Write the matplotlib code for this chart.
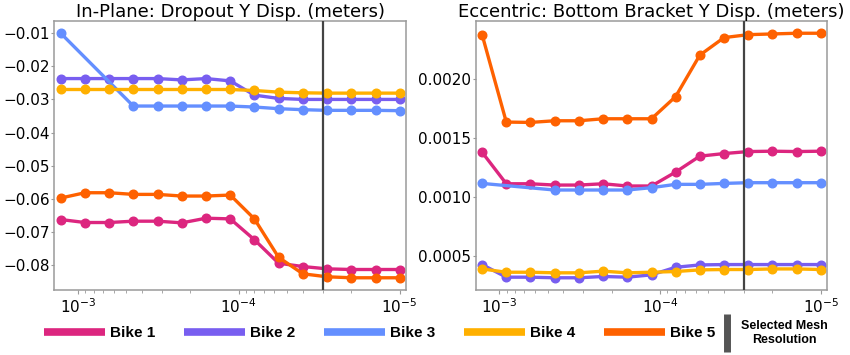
import matplotlib
matplotlib.use("Agg")
import matplotlib.pyplot as plt
from matplotlib.lines import Line2D
from matplotlib.ticker import MultipleLocator
import numpy as np

# ---- data ----
mesh_sizes = [1.28e-3, 9.05e-4, 6.4e-4, 4.53e-4, 3.2e-4, 2.26e-4, 1.6e-4, 1.13e-4,
              8e-5, 5.66e-5, 4e-5, 2.83e-5, 2e-5, 1.41e-5, 1e-5]
selected_mesh = 3e-5

bike_names = ["Bike 1", "Bike 2", "Bike 3", "Bike 4", "Bike 5"]
bike_colors = ["#DC267F", "#785EF0", "#648FFF", "#FFB000", "#FE6100"]

dropout_title = "In-Plane: Dropout Y Disp. (meters)"
dropout_bike1 = [-0.0663, -0.0672, -0.0672, -0.0668, -0.0668, -0.0673, -0.0659, -0.0661,
                 -0.0724, -0.0795, -0.0805, -0.0812, -0.0814, -0.0814, -0.0814]
dropout_bike2 = [-0.0237, -0.0237, -0.0237, -0.0237, -0.0237, -0.0241, -0.0237, -0.0244,
                 -0.0287, -0.0297, -0.0300, -0.0300, -0.0300, -0.0300, -0.0300]
dropout_bike3 = [-0.0100, None, None, -0.0320, -0.0320, -0.0320, -0.0320, -0.0320,
                 -0.0323, -0.0328, -0.0331, -0.0333, -0.0333, -0.0333, -0.0334]
dropout_bike4 = [-0.0270, -0.0270, -0.0270, -0.0270, -0.0270, -0.0270, -0.0270, -0.0270,
                 -0.0273, -0.0278, -0.0280, -0.0281, -0.0281, -0.0281, -0.0281]
dropout_bike5 = [-0.0598, -0.0582, -0.0582, -0.0587, -0.0587, -0.0592, -0.0592, -0.0589,
                 -0.0661, -0.0777, -0.0827, -0.0836, -0.0839, -0.0839, -0.0839]
dropout_ytick_step = 0.01

bracket_title = "Eccentric: Bottom Bracket Y Disp. (meters)"
bracket_bike1 = [0.001379, 0.001112, 0.001112, 0.001101, 0.001101, 0.001112, 0.001093, 0.001093,
                 0.001211, 0.001346, 0.001368, 0.001385, 0.001388, 0.001385, 0.001388]
bracket_bike2 = [0.000427, 0.000320, 0.000320, 0.000315, 0.000315, 0.000326, 0.000320, 0.000340,
                 0.000404, 0.000424, 0.000427, 0.000427, 0.000427, 0.000427, 0.000427]
bracket_bike3 = [0.001115, None, None, 0.001059, 0.001059, 0.001059, 0.001059, 0.001079,
                 0.001107, 0.001107, 0.001115, 0.001121, 0.001121, 0.001121, 0.001121]
bracket_bike4 = [0.000390, 0.000362, 0.000362, 0.000357, 0.000357, 0.000371, 0.000357, 0.000362,
                 0.000368, 0.000382, 0.000385, 0.000385, 0.000390, 0.000390, 0.000385]
bracket_bike5 = [0.002376, 0.001635, 0.001632, 0.001646, 0.001646, 0.001663, 0.001663, 0.001663,
                 0.001851, 0.002202, 0.002351, 0.002376, 0.002382, 0.002388, 0.002388]
bracket_ytick_step = 0.0005

selected_label = "Selected Mesh\nResolution"

# ---- plotting ----
plt.rcParams['font.family'] = ['DejaVu Sans']
fig = plt.figure(figsize=(8.5, 3.55), dpi=100)
ax1 = fig.add_axes([0.0639, 0.1831, 0.4138, 0.7577])
ax2 = fig.add_axes([0.5596, 0.1831, 0.4136, 0.7577])

spine_col = "#9a9a9a"
x_arr = np.array(mesh_sizes)

def draw(ax, title, series, ystep):
    for vals, col in zip(series, bike_colors):
        y = np.array([np.nan if v is None else v for v in vals], dtype=float)
        ok = ~np.isnan(y)
        ax.plot(x_arr[ok], y[ok], color=col, lw=2.4, marker='o', ms=6.2,
                solid_capstyle='round')
    ax.set_xscale('log')
    ax.margins(x=0.019)
    ax.invert_xaxis()
    ax.yaxis.set_major_locator(MultipleLocator(ystep))
    ax.axvline(selected_mesh, color="#444444", lw=1.6, zorder=5)
    ax.set_title(title, fontsize=13, pad=2.5)
    for s in ax.spines.values():
        s.set_color(spine_col)
        s.set_linewidth(1.1)
    ax.tick_params(axis='both', which='both', colors=spine_col, labelcolor='black',
                   labelsize=11)
    ax.tick_params(axis='y', which='major', length=2, width=0.8, pad=1)
    ax.tick_params(axis='x', which='major', length=3, width=0.8, pad=2.5)
    ax.tick_params(axis='both', which='minor', length=2, width=0.6)

draw(ax1, dropout_title, [dropout_bike1, dropout_bike2, dropout_bike3, dropout_bike4, dropout_bike5],
     dropout_ytick_step)
draw(ax2, bracket_title, [bracket_bike1, bracket_bike2, bracket_bike3, bracket_bike4, bracket_bike5],
     bracket_ytick_step)

legend_font = {'family': ['Liberation Sans', 'DejaVu Sans'], 'weight': 'bold', 'size': 11}
handles = [Line2D([], [], color=c, lw=5.5, solid_capstyle='butt') for c in bike_colors]
fig.legend(handles, bike_names, loc='center', bbox_to_anchor=(0.4465, 0.062), ncol=5,
           frameon=False, prop=legend_font, handlelength=4.0, handletextpad=0.3,
           columnspacing=1.9, borderpad=0, borderaxespad=0)

sel_handle = Line2D([], [], color="#555555", marker='|', ls='None', markersize=27, mew=5)
leg2 = fig.legend([sel_handle], [selected_label], loc='center', bbox_to_anchor=(0.912, 0.062),
                  frameon=False, prop={'family': ['Liberation Sans', 'DejaVu Sans'],
                                       'weight': 'bold', 'size': 9},
                  handlelength=0.8, handletextpad=0.7, borderpad=0, borderaxespad=0)
for t in leg2.get_texts():
    t.set_multialignment('center')

fig.savefig("out.png", dpi=100)
